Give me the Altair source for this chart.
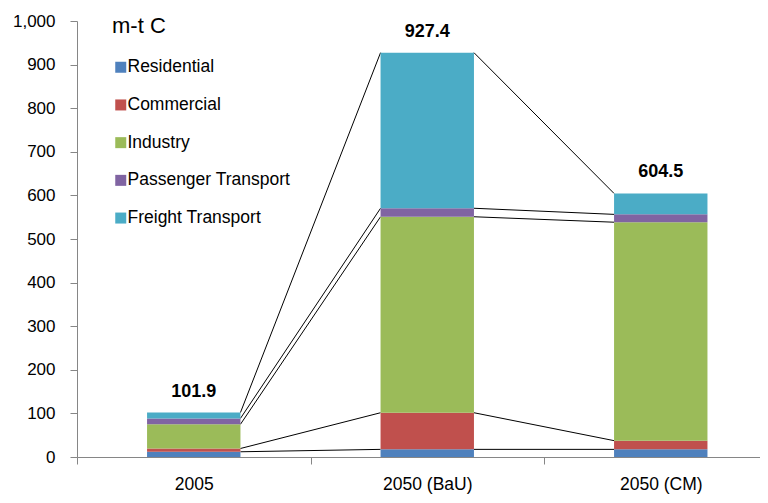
import altair as alt
import pandas as pd

categories = ["2005", "2050 (BaU)", "2050 (CM)"]
sectors = ["Residential", "Commercial", "Industry", "Passenger Transport", "Freight Transport"]
residential = [12.0, 17.5, 17.5]
commercial = [7.5, 84.0, 20.0]
industry = [55.5, 449.5, 501.0]
passenger = [13.5, 19.5, 18.0]
freight = [13.4, 356.9, 48.0]
totals = [101.9, 927.4, 604.5]
colors = ["#4F81BD", "#C0504D", "#9BBB59", "#8064A2", "#4BACC6"]

series = [residential, commercial, industry, passenger, freight]
HALF = 0.2

rows = []
cum = [0.0] * len(categories)
tops = []
for s_name, vals in zip(sectors, series):
    level = []
    for i, v in enumerate(vals):
        rows.append({"sector": s_name, "order": sectors.index(s_name), "pos": i,
                     "x0": i - HALF, "x1": i + HALF, "y0": cum[i], "y1": cum[i] + v})
        cum[i] += v
        level.append(cum[i])
    tops.append(level)
bars_df = pd.DataFrame(rows)

lines = []
for level in tops:
    for i in range(len(categories) - 1):
        lines.append({"xa": i + HALF, "xb": i + 1 - HALF, "ya": level[i], "yb": level[i + 1]})
lines_df = pd.DataFrame(lines)

tot_df = pd.DataFrame({"pos": list(range(len(categories))), "total": totals,
                       "label": [f"{t:.1f}" for t in totals]})

FONT = "Liberation Sans"
xscale = alt.Scale(domain=[-0.5, 2.425], nice=False, zero=False)
yscale = alt.Scale(domain=[0, 1000], nice=False)

label_expr = "datum.value === 0 ? '2005' : datum.value === 1 ? '2050 (BaU)' : datum.value === 2 ? '2050 (CM)' : ''"

xaxis = alt.Axis(values=[-0.5, 0, 0.5, 1, 1.5, 2], labelExpr=label_expr, title=None,
                 grid=False, domainColor="#868686", tickColor="#868686", tickSize=7,
                 tickOpacity={"condition": {"test": "datum.value % 1 === 0", "value": 0}, "value": 1},
                 labelFontSize=17.5, labelFont=FONT, labelColor="#000000", labelPadding=11,
                 labelFlush=False, labelOverlap=False)
yaxis = alt.Axis(values=list(range(0, 1001, 100)), format=",d", title=None, grid=False,
                 domainColor="#868686", tickColor="#868686", tickSize=7,
                 labelFontSize=17, labelFont=FONT, labelColor="#000000", labelPadding=15)

bars = alt.Chart(bars_df).mark_rect().encode(
    x=alt.X("x0:Q", scale=xscale, axis=xaxis),
    x2="x1:Q",
    y=alt.Y("y0:Q", scale=yscale, axis=yaxis),
    y2="y1:Q",
    color=alt.Color("sector:N", scale=alt.Scale(domain=sectors, range=colors),
                    legend=alt.Legend(orient="none", legendX=35, legendY=-5, title="m-t C",
                                      titleFontSize=22, titleFontWeight="normal", titleFont=FONT,
                                      titleColor="#000000", titlePadding=20.5,
                                      symbolType="square", symbolSize=121, symbolStrokeWidth=0,
                                      symbolOpacity=1, symbolOffset=0,
                                      labelFontSize=17.5, labelFont=FONT, labelColor="#000000",
                                      labelOffset={"expr": "-2"}, labelLimit=300, rowPadding=18.7)),
    order="order:Q",
)

conn = alt.Chart(lines_df).mark_rule(color="#000000", strokeWidth=1).encode(
    x=alt.X("xa:Q", scale=xscale), x2="xb:Q",
    y=alt.Y("ya:Q", scale=yscale), y2="yb:Q",
)

text = alt.Chart(tot_df).mark_text(font=FONT, fontSize=18, fontWeight="bold", baseline="alphabetic",
                                   dy=-16, color="#000000").encode(
    x=alt.X("pos:Q", scale=xscale), y=alt.Y("total:Q", scale=yscale), text="label:N"
)

chart = alt.layer(conn, bars, text).properties(
    width=683, height=436, autosize="none",
    padding={"left": 69, "top": 13, "right": 0, "bottom": 38},
).configure_view(stroke=None)

chart.save("out.html", embed_options={"renderer": "svg", "actions": False})
